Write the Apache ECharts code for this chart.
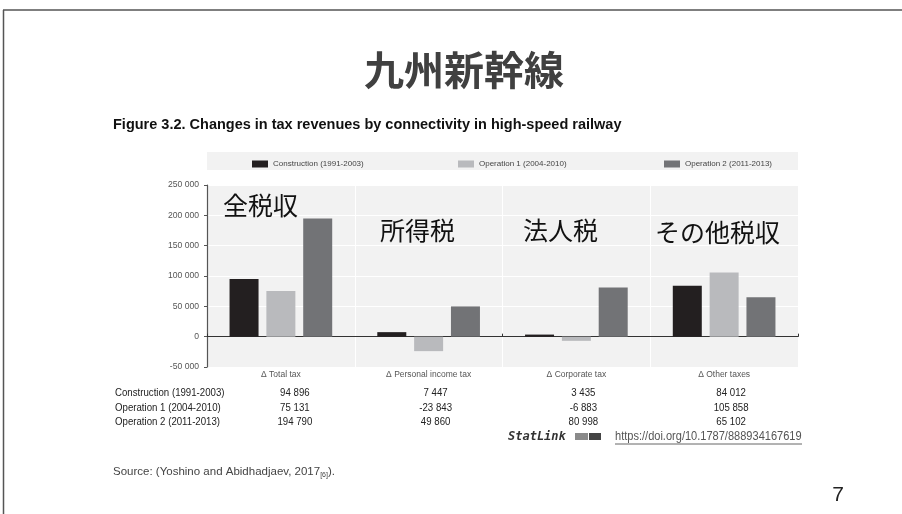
<!DOCTYPE html>
<html><head><meta charset="utf-8">
<script src="https://cdn.jsdelivr.net/npm/echarts@6/dist/echarts.min.js"></script>
<style>html,body{margin:0;padding:0;background:#fff}#c{width:902px;height:514px}</style>
</head><body><div id="c"></div>
<script>
// ---- data ----
const categories = ['Δ Total tax', 'Δ Personal income tax', 'Δ Corporate tax', 'Δ Other taxes'];
const seriesNames = ['Construction (1991-2003)', 'Operation 1 (2004-2010)', 'Operation 2 (2011-2013)'];
const construction = [94896, 7447, 3435, 84012];
const operation1 = [75131, -23843, -6883, 105858];
const operation2 = [194790, 49860, 80998, 65102];
const yMin = -50000, yMax = 250000, yInterval = 50000;
const annotations = ['全税収', '所得税', '法人税', 'その他税収'];
const titleText = '九州新幹線';
const captionText = 'Figure 3.2. Changes in tax revenues by connectivity in high-speed railway';
const sourceText = 'Source: (Yoshino and Abidhadjaev, 2017';
const sourceRef = '[6]';
const statUrl = 'https://doi.org/10.1787/888934167619';
const pageNo = '7';

// ---- style ----
const colors = ['#231f20', '#b9babd', '#727376'];
const SANS = "'Liberation Sans',Arial,sans-serif";
const CJK = "'Noto Sans CJK JP','Noto Sans CJK SC',sans-serif";
const seriesData = [construction, operation1, operation2];

function fmt(v) {
  const s = Math.abs(v).toString().replace(/\B(?=(\d{3})+(?!\d))/g, ' ');
  return (v < 0 ? '-' : '') + s;
}

const chart = echarts.init(document.getElementById('c'), null, {renderer: 'canvas'});
const legendLeft = [247, 453, 659];

const option = {
  backgroundColor: '#ffffff',
  animation: false,
  grid: {left: 207, right: 104, top: 185, bottom: 147, show: true, backgroundColor: '#f2f2f2', borderWidth: 0, containLabel: false},
  legend: seriesNames.map((n, i) => ({
    data: [n], left: legendLeft[i], top: 155, icon: 'rect', itemWidth: 16, itemHeight: 7,
    textStyle: {fontSize: 8, color: '#444', fontFamily: SANS}, selectedMode: false
  })),
  xAxis: [{
    type: 'category', data: categories, position: 'bottom',
    axisLine: {show: false, onZero: false}, axisTick: {show: false},
    axisLabel: {fontSize: 8.5, color: '#555', fontFamily: SANS, margin: 3, interval: 0},
    splitLine: {show: true, interval: 0, lineStyle: {color: '#ffffff', width: 1}}
  }, {
    type: 'category', data: categories, position: 'bottom',
    axisLine: {show: true, onZero: true, lineStyle: {color: '#333', width: 1.2}},
    axisTick: {show: true, inside: true, length: 3, lineStyle: {color: '#333'}},
    axisLabel: {show: false}, splitLine: {show: false}
  }],
  yAxis: {
    type: 'value', min: yMin, max: yMax, interval: yInterval,
    axisLine: {show: true, lineStyle: {color: '#555', width: 1.2}},
    axisTick: {show: true, length: 3, lineStyle: {color: '#555'}},
    axisLabel: {fontSize: 8.6, color: '#555', fontFamily: SANS, margin: 8, formatter: v => fmt(v)},
    splitLine: {show: true, lineStyle: {color: '#ffffff', width: 1}}
  },
  series: seriesNames.map((n, i) => ({
    name: n, type: 'bar', xAxisIndex: 0, data: seriesData[i], barWidth: 29, barGap: '27%',
    itemStyle: {color: colors[i]}
  }))
};
chart.setOption(option);

// ---- texts / decorations ----
const g = [];
// slide border
g.push({type: 'line', shape: {x1: 3, y1: 10, x2: 902, y2: 10}, style: {stroke: '#555', lineWidth: 1.5}});
g.push({type: 'line', shape: {x1: 3.5, y1: 10, x2: 3.5, y2: 514}, style: {stroke: '#555', lineWidth: 1.5}});
// title
g.push({type: 'text', x: 464, y: 70, style: {text: titleText, font: 'bold 40px ' + CJK, fill: '#404040', align: 'center', verticalAlign: 'middle'}});
// caption
g.push({type: 'text', x: 113, y: 125, style: {text: captionText, font: 'bold 14.5px ' + SANS, fill: '#111', align: 'left', verticalAlign: 'middle'}});
// legend band
g.push({type: 'rect', z: -10, shape: {x: 207, y: 152, width: 591, height: 18}, style: {fill: '#f2f2f2'}});
// annotations
const annPos = [[223, 205], [380, 230], [523, 230], [655, 232]];
annotations.forEach((t, i) => g.push({type: 'text', z: 10, x: annPos[i][0], y: annPos[i][1], style: {text: t, font: '25px ' + CJK, fill: '#111', align: 'left', verticalAlign: 'middle'}}));
// table
const rowY = [393, 407.5, 422];
seriesNames.forEach((n, r) => {
  g.push({type: 'text', x: 115, y: rowY[r], scaleX: 0.84, style: {text: n, font: '11.5px ' + SANS, fill: '#222', align: 'left', verticalAlign: 'middle'}});
  seriesData[r].forEach((v, c) => {
    const cx = chart.convertToPixel({xAxisIndex: 0}, c) + (c === 0 ? 14 : 7);
    g.push({type: 'text', x: cx, y: rowY[r], scaleX: 0.84, style: {text: fmt(v), font: '11.5px ' + SANS, fill: '#222', align: 'center', verticalAlign: 'middle'}});
  });
});
// statlink
g.push({type: 'text', x: 508, y: 437, style: {text: 'StatLink', font: 'italic bold 12px "DejaVu Sans Mono",monospace', fill: '#333', align: 'left', verticalAlign: 'middle'}});
g.push({type: 'rect', shape: {x: 575, y: 433, width: 13, height: 7}, style: {fill: '#8a8a8a'}});
g.push({type: 'rect', shape: {x: 589, y: 433, width: 12, height: 7}, style: {fill: '#444'}});
g.push({type: 'text', x: 615, y: 437, scaleX: 0.92, style: {text: statUrl, font: '12px ' + SANS, fill: '#555', align: 'left', verticalAlign: 'middle'}});
g.push({type: 'line', shape: {x1: 615, y1: 444, x2: 802, y2: 444}, style: {stroke: '#666', lineWidth: 1}});
// source
g.push({type: 'text', x: 113, y: 472, style: {
  text: '{a|' + sourceText + '}{s|' + sourceRef + '}{a|).}',
  fill: '#444', align: 'left', verticalAlign: 'middle',
  rich: {a: {font: '11.5px ' + SANS, fill: '#444'}, s: {font: '7px ' + SANS, fill: '#444', padding: [6, 0, 0, 0]}}
}});
// page number
g.push({type: 'text', x: 838, y: 495, style: {text: pageNo, font: '21px ' + SANS, fill: '#222', align: 'center', verticalAlign: 'middle'}});
chart.setOption({graphic: g});
</script></body></html>
